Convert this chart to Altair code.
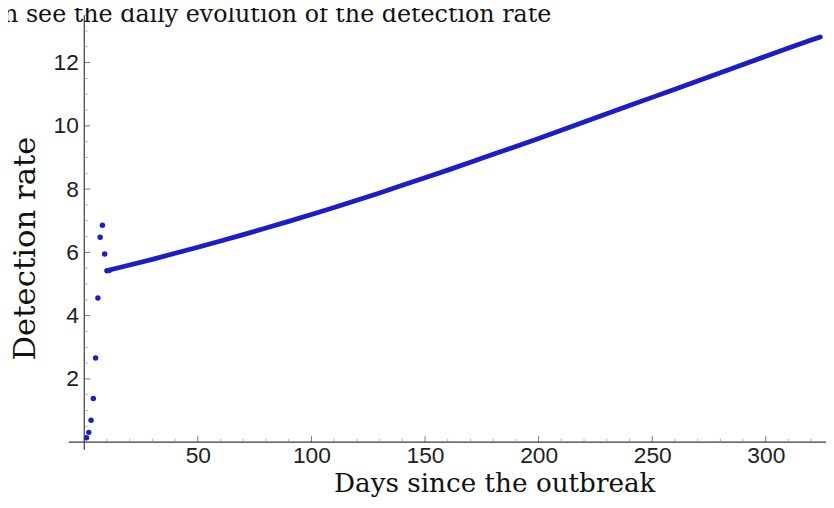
import altair as alt
import pandas as pd

# ---- data ----
early_days = [1, 2, 3, 4, 5, 6, 7, 8, 9, 10, 11]
early_rate = [0.14, 0.31, 0.69, 1.38, 2.66, 4.56, 6.48, 6.86, 5.95, 5.42, 5.43]

trend_days = [10, 12, 20, 30, 40, 50, 60, 70, 80, 90, 100, 110, 120, 130, 140,
              150, 160, 170, 180, 190, 200, 210, 220, 230, 240, 250, 260, 270,
              280, 290, 300, 310, 320, 324]
trend_rate = [5.42, 5.46, 5.60, 5.78, 5.97, 6.16, 6.36, 6.56, 6.77, 6.98, 7.20,
              7.42, 7.65, 7.88, 8.12, 8.36, 8.60, 8.85, 9.10, 9.35, 9.60, 9.86,
              10.12, 10.38, 10.64, 10.90, 11.16, 11.42, 11.68, 11.94, 12.20,
              12.46, 12.71, 12.81]

x_major = [50, 100, 150, 200, 250, 300]
x_minor = [d for d in range(10, 330, 10) if d % 50 != 0]
y_major = [2, 4, 6, 8, 10, 12]
y_minor = [v / 2 for v in range(1, 28) if v % 4 != 0]

header_text = "n see the daily evolution of the detection rate"
x_title = "Days since the outbreak"
y_title = "Detection rate"

# ---- layout ----
X_DOMAIN = [0, 326.5]
Y_DOMAIN = [0, 13.65]
BLUE = "#1c1cc8"
AX = "#3a3a3a"

xs = alt.Scale(domain=X_DOMAIN, nice=False, zero=False)
ys = alt.Scale(domain=Y_DOMAIN, nice=False, zero=False)

x_axis = alt.Axis(values=x_major, title=x_title, domain=False, ticks=False,
                  tickSize=0, grid=False, labelFont="Liberation Sans",
                  labelFontSize=23, labelColor="#222222", labelPadding=3,
                  labelFlush=False, labelOverlap=False, format="d",
                  titleFont="DejaVu Serif", titleFontSize=26.5,
                  titleFontWeight="normal", titleColor="#111111",
                  titleX=414, titleY=50, titleAlign="center",
                  titleBaseline="alphabetic")
y_axis = alt.Axis(values=y_major, title=y_title, domain=False, ticks=False,
                  tickSize=0, grid=False, labelFont="Liberation Sans",
                  labelFontSize=23, labelColor="#222222", labelPadding=6,
                  labelFlush=False, labelOverlap=False, format="d",
                  titleFont="DejaVu Serif", titleFontSize=31,
                  titleFontWeight="normal", titleColor="#111111",
                  titleAngle=270, titleX=-50, titleY=240, titleAlign="center",
                  titleBaseline="alphabetic")


def X(field):
    return alt.X(field, type="quantitative", scale=xs, axis=x_axis)


def Y(field):
    return alt.Y(field, type="quantitative", scale=ys, axis=y_axis)


hline = alt.Chart(pd.DataFrame({"a": [-6.8], "b": [X_DOMAIN[1]], "y": [0]})).mark_rule(
    color=AX, strokeWidth=1.2).encode(x=X("a"), x2="b", y=Y("y"))
vline = alt.Chart(pd.DataFrame({"x": [0], "a": [-0.24], "b": [13.5]})).mark_rule(
    color=AX, strokeWidth=1.2).encode(x=X("x"), y=Y("a"), y2="b")

xmaj = alt.Chart(pd.DataFrame({"v": x_major, "z": 0})).mark_tick(
    orient="vertical", size=6, thickness=1, yOffset=-3, color=AX).encode(
    x=X("v"), y=Y("z"))
xmin = alt.Chart(pd.DataFrame({"v": x_minor, "z": 0})).mark_tick(
    orient="vertical", size=3.5, thickness=1, yOffset=-1.75, color="#8a8a8a").encode(
    x=X("v"), y=Y("z"))
ymaj = alt.Chart(pd.DataFrame({"v": y_major, "z": 0})).mark_tick(
    orient="horizontal", size=6, thickness=1, xOffset=3, color=AX).encode(
    x=X("z"), y=Y("v"))
ymin = alt.Chart(pd.DataFrame({"v": y_minor, "z": 0})).mark_tick(
    orient="horizontal", size=3.5, thickness=1, xOffset=1.75, color="#8a8a8a").encode(
    x=X("z"), y=Y("v"))

trend = alt.Chart(pd.DataFrame({"d": trend_days, "r": trend_rate})).mark_line(
    color=BLUE, strokeWidth=4.8, strokeCap="round", strokeJoin="round").encode(
    x=X("d"), y=Y("r"))
early = alt.Chart(pd.DataFrame({"d": early_days, "r": early_rate})).mark_circle(
    color=BLUE, size=30, opacity=1).encode(x=X("d"), y=Y("r"))

header = alt.Chart(pd.DataFrame({"t": [header_text]})).mark_text(
    font="DejaVu Serif", fontSize=24, align="left", baseline="alphabetic",
    color="#111111").encode(text="t:N", x=alt.value(-82), y=alt.value(12))

chart = alt.layer(hline, vline, xmin, xmaj, ymin, ymaj, trend, early, header).properties(
    width=749, height=436,
    autosize=alt.AutoSizeParams(type="none"),
    padding={"left": 77, "top": 0, "right": 0, "bottom": 56},
    background="white",
).configure_view(stroke=None)

chart.save("out.html", embed_options={"renderer": "svg", "actions": False})
